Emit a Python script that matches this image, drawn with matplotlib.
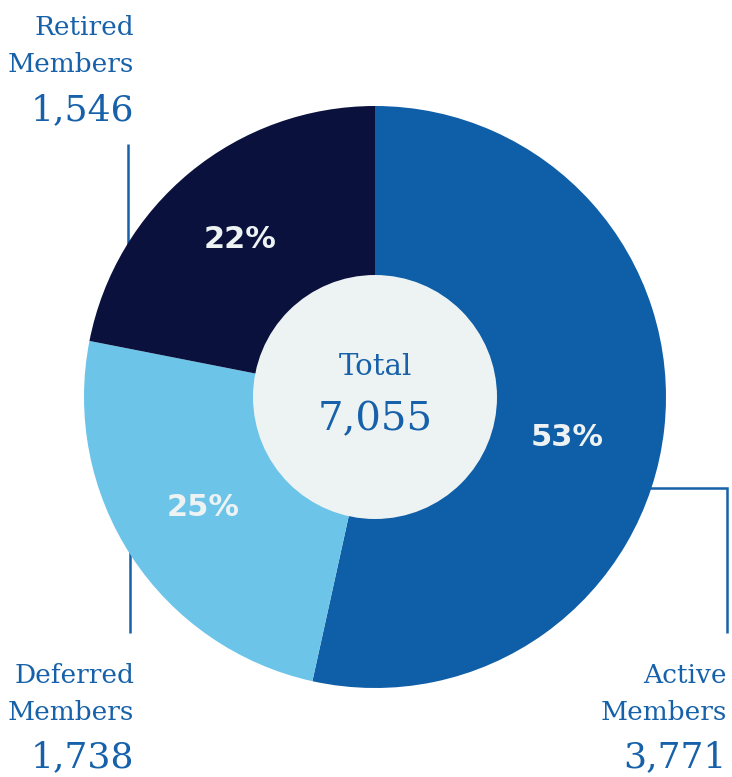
import matplotlib
matplotlib.use("Agg")
import matplotlib.pyplot as plt
from matplotlib.patches import Circle

# ---- data ----
categories = ["Active\nMembers", "Deferred\nMembers", "Retired\nMembers"]
values = [3771, 1738, 1546]
colors = ["#0F5EA8", "#6CC5E8", "#0A113C"]
total = sum(values)

W, H = 732, 777
TXT = "#1661A9"
LIGHT = "#EDF2F3"

fig = plt.figure(figsize=(W / 100, H / 100), dpi=100)
ax = fig.add_axes([0, 0, 1, 1])

def py(y):  # convert pixel-from-top to data y
    return H - y

cx, cy, R = 375, py(397), 291

ax.pie(values, colors=colors, startangle=90, counterclock=False,
       center=(cx, cy), radius=R, wedgeprops=dict(linewidth=0, zorder=3),
       frame=False)
ax.add_patch(Circle((cx, cy), 122, facecolor=LIGHT, edgecolor="none", zorder=4))

ax.set_xlim(0, W)
ax.set_ylim(0, H)
ax.set_aspect("equal")
ax.axis("off")

# leader lines (behind pie)
lw = 1.8
ax.plot([128, 128], [py(144), py(270)], color=TXT, lw=lw, zorder=1, solid_capstyle="butt")
ax.plot([130, 130], [py(530), py(633)], color=TXT, lw=lw, zorder=1, solid_capstyle="butt")
ax.plot([600, 727, 727], [py(488), py(488), py(633)], color=TXT, lw=lw, zorder=1,
        solid_capstyle="butt", solid_joinstyle="miter")

# percentage labels
pct_pos = [(567, 437), (203, 508), (240, 240)]
for v, (x, y) in zip(values, pct_pos):
    ax.text(x, py(y), f"{round(v / total * 100)}%", ha="center", va="center",
            color=LIGHT, fontsize=22, fontweight="bold", family="DejaVu Sans", zorder=5)

serif = "DejaVu Serif"
# category labels: (right x, baseline of line1, baseline of line2, baseline of number)
label_pos = [(727, 683, 720, 767), (134, 683, 720, 767), (134, 35, 72, 120)]
for cat, v, (x, b1, b2, b3) in zip(categories, values, label_pos):
    l1, l2 = cat.split("\n")
    ax.text(x, py(b1), l1, ha="right", va="baseline", color=TXT, fontsize=19, family=serif)
    ax.text(x, py(b2), l2, ha="right", va="baseline", color=TXT, fontsize=19, family=serif)
    ax.text(x, py(b3), f"{v:,}", ha="right", va="baseline", color=TXT, fontsize=26, family=serif)

ax.text(cx, py(375), "Total", ha="center", va="baseline", color=TXT, fontsize=21, family=serif, zorder=5)
ax.text(cx, py(430), f"{total:,}", ha="center", va="baseline", color=TXT, fontsize=29, family=serif, zorder=5)

fig.savefig("out.png", dpi=100, facecolor="white")
